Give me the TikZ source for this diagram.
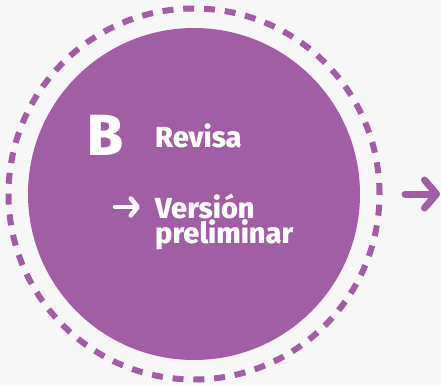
\documentclass[tikz,border=0pt]{standalone}
\usepackage{fontspec}
\setmainfont{Fira Sans}[BoldFont={Fira Sans ExtraBold}]
\usetikzlibrary{arrows.meta}
\definecolor{morado}{HTML}{A15EA5}
\definecolor{fondo}{HTML}{F7F7F7}
\begin{document}
\begin{tikzpicture}[x=1pt,y=-1pt,
    txt/.style={text=white,font=\bfseries\fontsize{29}{25}\selectfont,inner sep=0pt,anchor=base west},
    arr/.style={morado,line width=7pt,line cap=round,-{Straight Barb[round,length=12pt,width=28pt]}},
    arrchica/.style={white,line width=4.5pt,line cap=round,-{Straight Barb[round,length=7pt,width=17pt]}}]

      \fill[fondo] (0,0) rectangle (441,385);
      \clip (0,0) rectangle (441,385);

      \node[circle,fill=morado,inner sep=0pt,minimum size=332pt] (circulo) at (194,194) {};
      \node[circle,draw=morado,line width=6pt,dash pattern=on 11pt off 9.8pt,minimum size=371pt] (anillo) at (194,194) {};

      \node[txt,font=\bfseries\fontsize{58}{58}\selectfont] (letra) at (87,155) {B};
      \node[txt] (revisa) at (155,147) {Revisa};
      \node[txt,align=left] (version) at (155,243) {Versión\\preliminar};

      \coordinate (inicio) at (115,207);
      \coordinate (fin) at (140,207);
      \draw[arrchica] (inicio) -- (fin);

      \coordinate (salida) at (405,194);
      \coordinate (llegada) at (440,194);
      \draw[arr] (salida) -- (llegada);

    \end{tikzpicture}
\end{document}
